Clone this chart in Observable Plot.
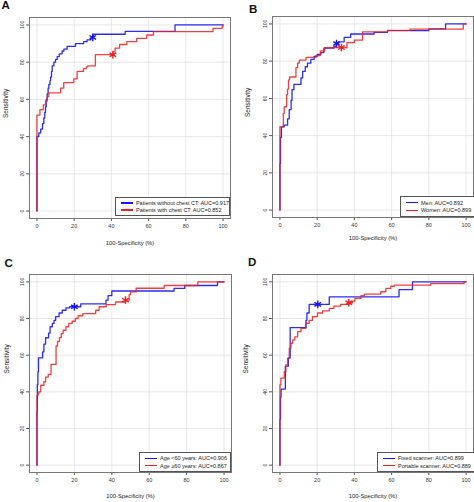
<!DOCTYPE html>
<html><head><meta charset="utf-8">
<script src="https://cdn.jsdelivr.net/npm/d3@7"></script>
<script src="https://cdn.jsdelivr.net/npm/@observablehq/plot@0.6"></script>
<style>
body{margin:0;background:#fff;}
#fig{position:relative;width:474px;height:502px;overflow:hidden;font-family:"Liberation Sans",Arial,sans-serif;background:#fff;}
.panel{position:absolute;width:237px;height:251px;overflow:hidden;}
.panel svg{position:absolute;left:0;top:0;}
.tag{position:absolute;font-weight:bold;font-size:11.5px;line-height:11.5px;color:#111;}
.legend{position:absolute;box-sizing:border-box;border:1px solid #555;background:#fff;display:flex;flex-direction:column;justify-content:space-evenly;padding:1px 0;}
.row{display:flex;align-items:center;height:6px;font-size:5.5px;line-height:6px;color:#222;white-space:nowrap;}
.key{display:inline-block;width:12px;margin-left:5px;margin-right:3px;height:1.5px;}
</style></head><body><div id="fig"></div>
<script>
// ---------- data (100-Specificity %, Sensitivity %) ----------
const xTicks = [0, 20, 40, 60, 80, 100];
const yTicks = [0, 20, 40, 60, 80, 100];

// Panel A
const aNames = ["Patients without chest CT: AUC=0.917", "Patients with chest CT: AUC=0.852"];
const aBlueFpr = [0,0,1,2,3,3.7,4.2,4.6,5,5.5,6,6.4,7,7.3,7.8,8.2,9.1,10,10.9,12,13.5,14.5,16.2,20.7,25.1,26.9,29,30.5,47.4,74.2,100];
const aBlueTpr = [0,40,42,44,47,50,53,56,60,63,66,68,70,72,75,78,80,81.5,83,84.5,86,87,88.5,90,91,92,93.3,95,96.5,100,100];
const aRedFpr = [0,0,1.6,3.4,4.6,5.5,6.4,12.7,14.4,19.8,21.6,25,26.5,27.3,31.4,41,42,44.4,48.3,53.6,59,62.6,94.6,99.5,100];
const aRedTpr = [0,51.5,54.5,57,59,61.5,63.5,66,69,71,75,76.5,77.5,78,84,85.5,87.5,89.5,91,92.8,94.6,96.4,98.2,99,100];
const aStarFpr = [30, 40.8];
const aStarTpr = [93.3, 84];

// Panel B
const bNames = ["Men: AUC=0.892", "Women: AUC=0.899"];
const bBlueFpr = [0,0,0.3,0.8,2.3,4.1,5,6,6.5,7.5,11.3,12.2,13.6,14.8,16.6,18.4,20,22,23.6,29,30.4,31.5,34.5,38,50.6,57.8,80,89,100];
const bBlueTpr = [0,25,39,44.7,45.6,49,54,59,64.7,67.5,71,74.5,77,79,81,82.5,83.7,84.6,87,88,89.5,90.4,92.8,94.6,95.5,96.4,97.3,100,100];
const bRedFpr = [0,0,1.8,2.3,3.6,4.1,4.6,5.2,8.6,9.5,10.4,14,19.3,21.7,24,36,40,44.4,57.8,70,98.5,100];
const bRedTpr = [0,44.7,52,55.5,62,65,70,71.5,76.5,79,80.6,82,83,85.5,87.3,90,91.3,95.7,96.5,97.2,100,100];
const bStarFpr = [30.4, 33];
const bStarTpr = [89.5, 87.3];

// Panel C
const cNames = ["Age <60 years: AUC=0.906", "Age \u226560 years: AUC=0.867"];
const cBlueFpr = [0,0,0.2,0.5,0.8,3,3.7,4.6,6.2,7,8.2,9.1,10,11.8,13.5,15.5,17.5,23.4,36.9,38,40,73.3,79,96.5,100];
const cBlueTpr = [0,29,44,51,58.5,61.8,66,69.5,72,75.5,77.3,79,81,83,84.5,85.8,86.4,88,90,92.5,95,96.4,98,100,100];
const cRedFpr = [0,0,0.5,1,2,3.7,4.6,6,7.5,10.2,11,12,13,14,15.5,17,18.8,20.5,22,24.5,31.4,33.2,37,42,47.3,49.3,50,53,68,86,100];
const cRedTpr = [0,38,39,40,43.6,45.5,48,49.5,55,65,67.5,69.6,71.8,73.6,75.5,77.3,78.5,80,81.5,82.7,84.5,86.4,87.6,89,90,93,94.5,96.5,98,100,100];
const cStarFpr = [20, 47.3];
const cStarTpr = [86.4, 90];

// Panel D
const dNames = ["Fixed scanner: AUC=0.899", "Portable scanner: AUC=0.889"];
const dBlueFpr = [0,0,0.3,0.6,2.9,4.5,5.5,14,14.5,15.7,26.5,64,71.2,100];
const dBlueTpr = [0,25,37,41.5,54,58.5,75,79,83,87.7,91.8,95.8,100,100];
const dRedFpr = [0,0,0.5,2.3,3.2,4.1,5,5.9,6.8,8,9.5,11.3,13.8,15.7,17.5,20.2,22.9,26.5,29,32.6,37,39,40.3,43.5,45.3,54.2,56.9,59.6,61.4,81,98.9,100];
const dRedTpr = [0,43.8,47.5,51,54.7,58.3,63.8,66.5,68.3,70,72.8,74.6,77.4,79,81,83,84.2,85.5,86.8,87.7,88.6,89.5,91,92.4,93.3,94.6,96.4,97.6,98.2,99,100,100];
const dStarFpr = [20.3, 37];
const dStarTpr = [87.7, 88.6];

const xLabel = "100-Specificity (%)";
const yLabel = "Sensitivity";
const BLUE = "#1515f5", RED = "#f21d1d";

// ---------- layout ----------
const panels = [
  {tag:"A", left:0, top:0, ml:29, mr:7, mt:17, mb:33, xly:26, ylx:5.5, tagX:1.5, tagY:0,
   leg:{l:115,t:197,w:115,h:19}, names:aNames, bx:aBlueFpr, by:aBlueTpr, rx:aRedFpr, ry:aRedTpr, sx:aStarFpr, sy:aStarTpr},
  {tag:"B", left:237, top:0, ml:35, mr:1, mt:16, mb:34, xly:22, ylx:10, tagX:12, tagY:3.5,
   leg:{l:163,t:196,w:80,h:21}, names:bNames, bx:bBlueFpr, by:bBlueTpr, rx:bRedFpr, ry:bRedTpr, sx:bStarFpr, sy:bStarTpr},
  {tag:"C", left:0, top:251, ml:29, mr:6, mt:23, mb:30, xly:25, ylx:6, tagX:4.5, tagY:6.5,
   leg:{l:139,t:201,w:92,h:20}, names:cNames, bx:cBlueFpr, by:cBlueTpr, rx:cRedFpr, ry:cRedTpr, sx:cStarFpr, sy:cStarTpr},
  {tag:"D", left:237, top:251, ml:35, mr:1, mt:23, mb:30, xly:25.5, ylx:8, tagX:11, tagY:5.5,
   leg:{l:140,t:201,w:100,h:20}, names:dNames, bx:dBlueFpr, by:dBlueTpr, rx:dRedFpr, ry:dRedTpr, sx:dStarFpr, sy:dStarTpr}
];

const zip = (xs, ys) => xs.map((x, i) => ({x, y: ys[i]}));
const fig = document.getElementById("fig");

for (const p of panels) {
  const blue = zip(p.bx, p.by);
  const red = zip(p.rx, p.ry);
  const stars = [{x: p.sx[0], y: p.sy[0], c: BLUE}, {x: p.sx[1], y: p.sy[1], c: RED}];
  const chart = Plot.plot({
    width: 237, height: 251,
    marginLeft: p.ml, marginRight: p.mr, marginTop: p.mt, marginBottom: p.mb,
    x: {domain: [-4, 104]},
    y: {domain: [-4, 104]},
    style: {fontFamily: "Liberation Sans, Arial, sans-serif", fontSize: "5.5px", color: "#333", background: "transparent"},
    marks: [
      Plot.gridX(xTicks, {stroke: "#e2e2e2", strokeOpacity: 1, strokeWidth: 0.8}),
      Plot.gridY(yTicks, {stroke: "#e2e2e2", strokeOpacity: 1, strokeWidth: 0.8}),
      Plot.axisX(xTicks, {tickSize: 3, tickPadding: 2.5, label: null, stroke: "#555", fill: "#333", fontSize: 5.5}),
      Plot.axisY(yTicks, {tickSize: 3, tickPadding: 2.5, tickRotate: -90, textAnchor: "middle", lineAnchor: "bottom",
                          label: null, stroke: "#555", fill: "#333", fontSize: 5}),
      Plot.text([xLabel], {frameAnchor: "bottom", dy: p.xly, text: d => d, fontSize: 5.8, fill: "#222"}),
      Plot.text([yLabel], {frameAnchor: "left", dx: p.ylx - p.ml, rotate: -90, text: d => d, fontSize: 6.5, fill: "#222"}),
      Plot.line(blue, {x: "x", y: "y", curve: "step-after", stroke: BLUE, strokeWidth: 1.3, strokeOpacity: 0.9}),
      Plot.line(red, {x: "x", y: "y", curve: "step-after", stroke: RED, strokeWidth: 1.3, strokeOpacity: 0.85}),
      Plot.dot(stars, {x: "x", y: "y", symbol: "asterisk", r: 3.6, stroke: "c", strokeWidth: 1.4}),
      Plot.frame({stroke: "#777", strokeWidth: 1})
    ]
  });
  const div = document.createElement("div");
  div.className = "panel";
  div.style.left = p.left + "px";
  div.style.top = p.top + "px";
  div.appendChild(chart);

  const tag = document.createElement("div");
  tag.className = "tag";
  tag.textContent = p.tag;
  tag.style.left = p.tagX + "px";
  tag.style.top = p.tagY + "px";
  div.appendChild(tag);

  const leg = document.createElement("div");
  leg.className = "legend";
  Object.assign(leg.style, {left: p.leg.l + "px", top: p.leg.t + "px", width: p.leg.w + "px", height: p.leg.h + "px"});
  [[BLUE, p.names[0]], [RED, p.names[1]]].forEach(([c, t]) => {
    const row = document.createElement("div");
    row.className = "row";
    const key = document.createElement("span");
    key.className = "key";
    key.style.background = c;
    const txt = document.createElement("span");
    txt.textContent = t;
    row.appendChild(key); row.appendChild(txt);
    leg.appendChild(row);
  });
  div.appendChild(leg);
  fig.appendChild(div);
}
</script></body></html>
